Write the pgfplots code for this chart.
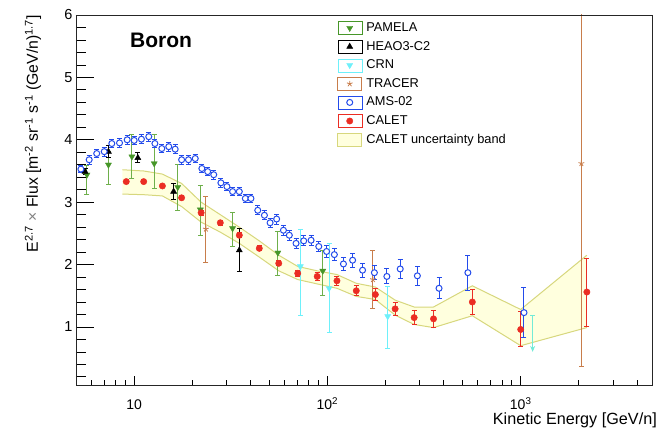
\documentclass[border=0pt]{standalone}
\usepackage{fontspec}
\setmainfont{Liberation Sans}
\usepackage{pgfplots}
\usepackage{pgfplotstable}
\pgfplotsset{compat=1.18}
\usepgfplotslibrary{fillbetween}
\usetikzlibrary{arrows.meta}

\definecolor{amsblue}{RGB}{35,75,235}
\definecolor{caletred}{RGB}{235,45,35}
\definecolor{pamgreen}{RGB}{70,150,40}
\definecolor{pamerr}{RGB}{110,175,75}
\definecolor{crncyan}{RGB}{110,240,250}
\definecolor{crnlim}{RGB}{115,235,215}
\definecolor{tracer}{RGB}{200,125,75}
\definecolor{bandfill}{RGB}{255,255,222}
\definecolor{bandline}{RGB}{215,215,125}

% E  value  err+  err-
\pgfplotstableread{
E F ep em
5.7 3.44 0.15 0.31
7.36 3.60 0.21 0.32
9.73 3.73 0.35 0.35
12.7 3.62 0.46 0.40
16.8 3.24 0.36 0.37
22.0 2.88 0.38 0.41
32.3 2.58 0.25 0.29
55.4 2.19 0.34 0.36
94.6 1.90 0.32 0.39
}\pamela

\pgfplotstableread{
E F ep em
5.57 3.49 0.05 0.05
7.36 3.81 0.10 0.10
10.45 3.71 0.08 0.08
16.0 3.17 0.13 0.13
35.0 2.23 0.35 0.34
}\heao

\pgfplotstableread{
E F ep em
72.4 1.97 0.60 0.78
102 1.62 0.71 0.71
205 1.17 0.48 0.52
}\crn

\pgfplotstableread{
E F ep em
23.5 2.57 0.52 0.54
172 1.76 0.47 0.46
2060 3.62 3.00 3.26
}\tracer

\pgfplotstableread{
E F e
5.3 3.53 0.06
5.85 3.68 0.07
6.4 3.78 0.07
7.0 3.81 0.07
7.66 3.94 0.07
8.4 3.95 0.07
9.2 4.00 0.07
10.0 3.99 0.07
10.9 4.01 0.07
11.9 4.05 0.07
12.8 3.94 0.07
13.9 3.86 0.07
15.1 3.89 0.07
16.3 3.85 0.07
17.6 3.68 0.07
19.1 3.68 0.07
20.7 3.70 0.07
22.4 3.54 0.07
24.0 3.49 0.07
25.8 3.44 0.07
28.1 3.31 0.07
30.2 3.25 0.07
32.3 3.17 0.07
35.0 3.17 0.07
37.6 3.06 0.07
40.2 3.06 0.07
43.6 2.87 0.07
47.2 2.79 0.07
50.5 2.67 0.07
54.6 2.73 0.08
59.2 2.55 0.08
63.5 2.47 0.08
68.8 2.34 0.08
75.4 2.38 0.08
82.3 2.39 0.08
90.2 2.29 0.08
99 2.21 0.09
108.6 2.16 0.10
121 2.01 0.10
135 2.07 0.11
152 1.91 0.11
175 1.87 0.11
203 1.81 0.12
238 1.93 0.15
292 1.82 0.15
378 1.62 0.17
533 1.87 0.28
1040 1.23 0.40
}\ams

\pgfplotstableread{
E F ep em
9.1 3.33 0.03 0.03
11.2 3.33 0.03 0.03
14.0 3.26 0.03 0.03
17.6 3.07 0.03 0.03
22.2 2.83 0.04 0.04
27.9 2.67 0.04 0.04
35.0 2.47 0.04 0.04
44.4 2.26 0.04 0.04
56.0 2.02 0.04 0.04
70.2 1.86 0.05 0.05
88.5 1.81 0.06 0.06
112 1.74 0.07 0.07
141 1.58 0.08 0.08
177 1.52 0.10 0.10
224 1.29 0.11 0.11
281 1.15 0.11 0.11
354 1.13 0.14 0.14
562 1.40 0.20 0.20
1000 0.96 0.28 0.28
2200 1.56 0.54 0.56
}\calet

\pgfplotstableread{
E up lo
8.7 3.52 3.13
11.2 3.50 3.12
14.0 3.45 3.10
17.6 3.30 2.93
22.2 3.00 2.68
27.9 2.80 2.52
35.0 2.60 2.34
44.4 2.38 2.12
56.0 2.15 1.90
70.2 1.97 1.76
88.5 1.90 1.69
112 1.84 1.62
141 1.70 1.49
177 1.64 1.44
224 1.43 1.19
281 1.32 1.04
354 1.32 0.99
562 1.66 1.18
1000 1.28 0.70
2200 2.15 0.99
}\band

\pgfplotsset{
  ebar/.style={error bars/.cd, y dir=both, y explicit,
    error bar style={line width=1pt, #1},
    error mark options={rotate=90, mark size=2.5pt, line width=1pt, #1}},
}

\begin{document}
\begin{tikzpicture}

\begin{axis}[
  at={(0,0)}, anchor=south west, scale only axis,
  width=576pt, height=370pt,
  xmode=log, xmin=5, xmax=4780, ymin=0.07, ymax=6,
  xtick={10,100,1000},
  xticklabels={10,10\textsuperscript{2},10\textsuperscript{3}},
  minor xtick={6,7,8,9,20,30,40,50,60,70,80,90,200,300,400,500,600,700,800,900,2000,3000,4000},
  ytick=\empty,
  tick align=inside, xtick pos=left,
  major tick length=9pt, minor tick length=5pt,
  tick style={black, line width=0.8pt},
  axis line style={line width=0.8pt, black!85},
  xticklabel style={font=\fontsize{14}{16}\selectfont, anchor=base, inner sep=0.5pt, yshift=-24.8pt},
  xlabel={Kinetic Energy [GeV/n]},
  xlabel style={font=\fontsize{16.2}{19}\selectfont, at={(axis description cs:1,0)},
    anchor=north east, inner sep=0pt, xshift=5pt, yshift=-28pt},
  legend image code/.code={\path (0pt,-6.5pt) rectangle (24pt,6.5pt);
    \draw[#1] plot coordinates {(12pt,0pt)};},
  legend style={draw=none, fill=none, at={(rel axis cs:0.453,0.987)}, anchor=north west,
    font=\fontsize{12.8}{15}\selectfont, inner sep=0pt, row sep=2.6pt, column sep=2.5pt,
    nodes={inner sep=1.5pt, text height=10pt, text depth=3pt}},
  legend cell align=left,
]

% uncertainty band
\addplot[name path=up, draw=none, forget plot] table[x=E, y=up] {\band};
\addplot[name path=lo, draw=none, forget plot] table[x=E, y=lo] {\band};
\addplot[bandfill, forget plot] fill between[of=up and lo];
\addplot[bandline, line width=1pt, forget plot] table[x=E, y=up] {\band};
\addplot[bandline, line width=1pt, forget plot] table[x=E, y=lo] {\band};

% TRACER
\addplot[forget plot, only marks, mark=star, mark size=3pt, tracer, line width=0.8pt,
  ebar=tracer] table[x=E, y=F, y error plus=ep, y error minus=em] {\tracer};

% CRN
\addplot[forget plot, only marks, mark=triangle*, mark size=3.5pt, crncyan,
  mark options={rotate=180, fill=crncyan, draw=crncyan},
  ebar=crncyan] table[x=E, y=F, y error plus=ep, y error minus=em] {\crn};
\addplot[forget plot, only marks, mark=-, mark size=2.5pt, crnlim, line width=1pt,
  error bars/.cd, y dir=minus, y explicit, error mark=none,
  error bar style={line width=1pt, crnlim, -{Stealth[length=6pt, width=5pt]}}]
  coordinates {(1153,1.19) -= (0,0.59)};

% PAMELA
\addplot[forget plot, only marks, mark=triangle*, mark size=3.5pt, pamgreen,
  mark options={rotate=180, fill=pamgreen, draw=pamgreen},
  ebar=pamerr] table[x=E, y=F, y error plus=ep, y error minus=em] {\pamela};

% HEAO3-C2
\addplot[forget plot, only marks, mark=triangle*, mark size=3.5pt, black,
  mark options={fill=black, draw=black},
  ebar=black] table[x=E, y=F, y error plus=ep, y error minus=em] {\heao};

% AMS-02
\addplot[forget plot, only marks, mark=*, mark size=3pt, amsblue,
  mark options={fill=white, draw=amsblue, line width=1pt},
  ebar=amsblue] table[x=E, y=F, y error=e] {\ams};

% CALET
\addplot[forget plot, only marks, mark=*, mark size=3.2pt, caletred,
  mark options={fill=caletred, draw=caletred},
  ebar=caletred] table[x=E, y=F, y error plus=ep, y error minus=em] {\calet};

% legend
\addlegendimage{mark=triangle*, mark size=3.5pt, pamgreen, mark options={rotate=180, fill=pamgreen, draw=pamgreen}}
\addlegendentry{PAMELA}
\addlegendimage{mark=triangle*, mark size=3.5pt, black, mark options={fill=black, draw=black}}
\addlegendentry{HEAO3-C2}
\addlegendimage{mark=triangle*, mark size=3.5pt, crncyan, mark options={rotate=180, fill=crncyan, draw=crncyan}}
\addlegendentry{CRN}
\addlegendimage{mark=star, mark size=3pt, tracer, line width=0.8pt}
\addlegendentry{TRACER}
\addlegendimage{mark=*, mark size=3pt, amsblue, mark options={fill=white, draw=amsblue, line width=1pt}}
\addlegendentry{AMS-02}
\addlegendimage{mark=*, mark size=3.2pt, caletred, mark options={fill=caletred, draw=caletred}}
\addlegendentry{CALET}
\addlegendimage{legend image code/.code={\draw[fill=bandfill, draw=bandline, line width=1.2pt] (0pt,-6.5pt) rectangle (24pt,6.5pt);}}
\addlegendentry{CALET uncertainty band}

\node[anchor=base west, inner sep=0pt, font=\bfseries\fontsize{21}{24}\selectfont]
  at (rel axis cs:0.09375,0.9127) {Boron};
\end{axis}

% second axis: y ticks with the longer ROOT tick length
\begin{axis}[
  at={(0,0)}, anchor=south west, scale only axis,
  width=576pt, height=370pt,
  xmin=0, xmax=1, ymin=0.07, ymax=6,
  xtick=\empty,
  ytick={1,2,3,4,5,6},
  minor ytick={0.2,0.4,0.6,0.8,1.2,1.4,1.6,1.8,2.2,2.4,2.6,2.8,3.2,3.4,3.6,3.8,4.2,4.4,4.6,4.8,5.2,5.4,5.6,5.8},
  tick align=inside, ytick pos=left,
  major tick length=18pt, minor tick length=10pt,
  tick style={black, line width=0.8pt},
  axis line style={line width=0.8pt, black!85},
  yticklabel style={font=\fontsize{14.5}{17}\selectfont},
  /pgf/number format/assume math mode=true,
  ylabel={E\textsuperscript{2.7} {\color{gray}×} Flux [m\textsuperscript{-2} sr\textsuperscript{-1} s\textsuperscript{-1} (GeV/n)\textsuperscript{1.7}]},
  ylabel style={font=\fontsize{15.8}{18}\selectfont, at={(axis description cs:-0.0747,1)},
    anchor=east, inner sep=0pt},
]
\addplot[draw=none, forget plot] coordinates {(0,1) (1,1)};
\end{axis}
\pgfresetboundingbox
\path[use as bounding box] (-76pt,-46pt) rectangle (583pt,385pt);
\end{tikzpicture}
\end{document}
